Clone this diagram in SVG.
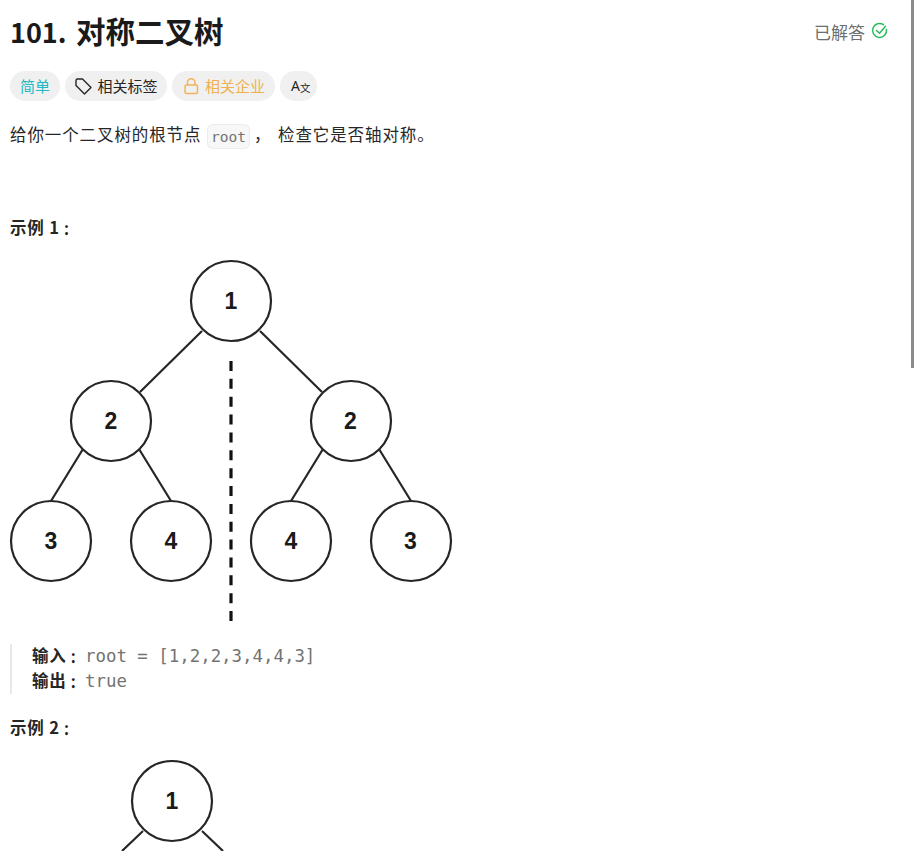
<svg xmlns="http://www.w3.org/2000/svg" width="914" height="851" viewBox="0 0 914 851">
<style>
text{font-family:"Noto Sans CJK SC","Noto Sans",sans-serif;fill:#262626}
.lat{font-family:"Noto Sans","Noto Sans CJK SC",sans-serif}
.mono{font-family:"DejaVu Sans Mono","Liberation Mono",monospace;fill:#737373}
.c{fill:#fff;stroke:#262626;stroke-width:2.2}
.e{stroke:#262626;stroke-width:2.2;fill:none}
.n{font-family:"Liberation Sans",Arial,sans-serif;font-size:23px;font-weight:700;text-anchor:middle;fill:#1a1a1a}
.b{font-size:16.500px;font-weight:700;letter-spacing:.8px}
.col{font-family:"Noto Sans CJK TC",sans-serif;font-size:13.500px;font-weight:900}
.pill{fill:#f0f0f0}
.t{font-size:15px}
.p{font-size:16.500px;letter-spacing:.9px}
.title{font-size:27px;font-weight:700;fill:#1a1a1a}
.done{font-size:17px;fill:#6e6e6e}
</style>
<rect width="914" height="851" fill="#fff"/>
<rect x="911" y="0" width="3" height="368" fill="#8c8c8c"/>
<text x="10" y="43" class="title">101.</text>
<text x="76" y="43" class="title" style="font-size:29.500px">对称二叉树</text>
<text x="814" y="38.500" class="done">已解答</text>
<g fill="none" stroke="#2cbb5d" stroke-width="1.500" stroke-linecap="round" stroke-linejoin="round"><path d="M886.500 29.500A7 7 0 1 1 883.500 24.700"/><path d="M876.500 30.500l3 2.800 6-7"/></g>
<rect class="pill" x="10" y="71" width="50" height="30" rx="15"/>
<text x="20" y="92" class="t" style="fill:#22b8c4">简单</text>
<rect class="pill" x="65" y="71" width="102" height="30" rx="15"/>
<path d="M76 80.500v5l8.500 8.500 6.500-6.500-8.500-8.500h-5a1.500 1.500 0 0 0-1.500 1.500z" fill="none" stroke="#262626" stroke-width="1.400" stroke-linejoin="round"/>
<text x="97.500" y="92" class="t">相关标签</text>
<rect class="pill" x="172" y="71" width="103" height="30" rx="15"/>
<g fill="none" stroke="#f2b35c" stroke-width="1.500"><rect x="185" y="85" width="12.500" height="8.500" rx="1.500"/><path d="M187.500 85v-2.500a3.700 3.700 0 0 1 7.500 0V85"/></g>
<text x="205" y="92" class="t" style="fill:#efb04f">相关企业</text>
<rect class="pill" x="280" y="71" width="37" height="30" rx="15"/>
<text x="291" y="91" font-size="14" class="lat">A</text>
<text x="300" y="92" style="font-size:10.500px">文</text>
<text x="10" y="141" class="p">给你一个二叉树的根节点</text>
<rect x="207.500" y="124.500" width="42" height="24" rx="5" fill="#f7f7f7" stroke="#ececec"/>
<text x="211" y="142" style="font-size:14.500px" class="mono">root</text>
<text x="254" y="141" class="p">，</text>
<text x="278" y="141" class="p">检查它是否轴对称。</text>
<text x="10" y="234" class="b">示例 1<tspan class="col" dy="1">：</tspan></text>
<g id="connectors">
<path class="e" d="M202 331L140 392M260 331L322 392M83 449L51 501M139 449L171 501M323 449L291 501M379 449L411 501"/>
<path d="M231 361V621" fill="none" stroke="#111" stroke-width="3.200" stroke-dasharray="10 7.860"/>
<path class="e" d="M143 831L122 851M202 831L223 851"/>
</g>
<g id="n1"><circle class="c" cx="231" cy="301" r="40"/><text class="n" x="231" y="309">1</text></g>
<g id="n2"><circle class="c" cx="111" cy="421" r="40"/><text class="n" x="111" y="429">2</text></g>
<g id="n3"><circle class="c" cx="351" cy="421" r="40"/><text class="n" x="350.500" y="429">2</text></g>
<g id="n4"><circle class="c" cx="51" cy="541" r="40"/><text class="n" x="51" y="548.500">3</text></g>
<g id="n5"><circle class="c" cx="171" cy="541" r="40"/><text class="n" x="171" y="548.500">4</text></g>
<g id="n6"><circle class="c" cx="291" cy="541" r="40"/><text class="n" x="291" y="548.500">4</text></g>
<g id="n7"><circle class="c" cx="411" cy="541" r="40"/><text class="n" x="410.500" y="548.500">3</text></g>
<g id="n8"><circle class="c" cx="172" cy="801" r="40"/><text class="n" x="172" y="809">1</text></g>
<rect x="10" y="644" width="2" height="50" fill="#e8e8e8"/>
<text x="32" y="662" class="b">输入<tspan class="col" dy="1">：</tspan></text>
<text x="85" y="661.500" style="font-size:17.400px" class="mono">root = [1,2,2,3,4,4,3]</text>
<text x="32" y="687" class="b">输出<tspan class="col" dy="1">：</tspan></text>
<text x="85" y="686.500" style="font-size:17.400px" class="mono">true</text>
<text x="10" y="734" class="b">示例 2<tspan class="col" dy="1">：</tspan></text>
</svg>
